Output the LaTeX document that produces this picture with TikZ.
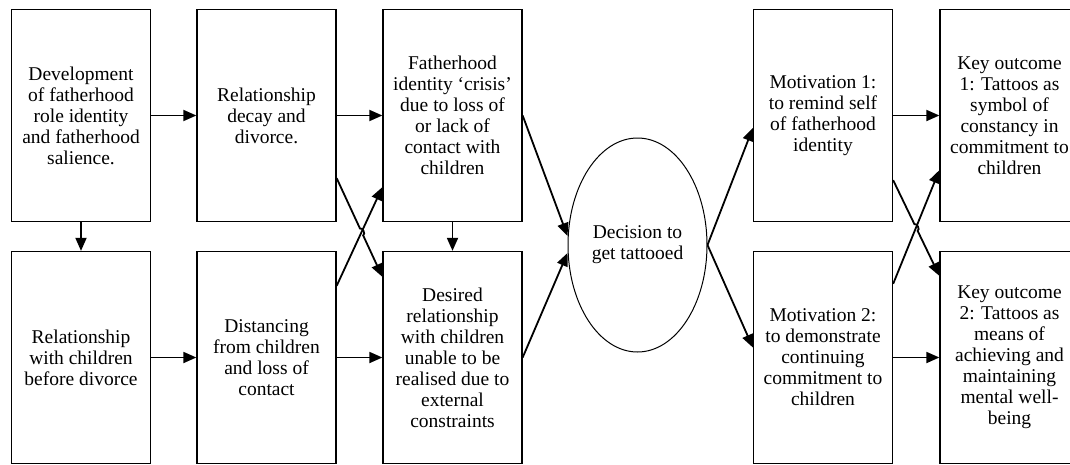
\documentclass[tikz,border=0pt]{standalone}
\usepackage{fontspec}
\setmainfont{Liberation Serif}
\usepackage{tikz}
\usetikzlibrary{arrows.meta,shapes.geometric,positioning,calc}
\tikzset{
  stage/.style={draw, line width=1.3pt, minimum width=139pt, minimum height=212pt,
    align=center, inner sep=2pt, font=\fontsize{19.5}{21}\selectfont},
  flow/.style={-{Triangle[length=13pt,width=11pt]}, line width=1.8pt},
}
\begin{document}
\begin{tikzpicture}[x=1pt,y=-1pt]
\useasboundingbox (0,0) rectangle (1070,464);
% top row
\node[stage] (dev) at (81,115.5) {Development\\of fatherhood\\role identity\\and fatherhood\\salience.};
\node[stage] (decay) at (266.5,115.5) {Relationship\\decay and\\divorce.};
\node[stage] (crisis) at (452.5,115.5) {Fatherhood\\identity `crisis'\\due to loss of\\or lack of\\contact with\\children};
% bottom row
\node[stage] (before) at (81,357.5) {Relationship\\with children\\before divorce};
\node[stage] (dist) at (266.5,357.5) {Distancing\\from children\\and loss of\\contact};
\node[stage] (desired) at (452.5,357.5) {Desired\\relationship\\with children\\unable to be\\realised due to\\external\\constraints};
% decision
\node[draw, ellipse, line width=1pt, minimum width=139pt, minimum height=214pt, inner sep=0pt,
  align=center, font=\fontsize{19.5}{21}\selectfont] (tat) at (637.5,245) {Decision to\\get tattooed};
% motivations and outcomes
\node[stage] (mot1) at (823,115.5) {Motivation 1:\\to remind self\\of fatherhood\\identity};
\node[stage] (mot2) at (823,357.5) {Motivation 2:\\to demonstrate\\continuing\\commitment to\\children};
\node[stage] (key1) at (1009.5,115.5) {Key outcome\\1: Tattoos as\\symbol of\\constancy in\\commitment to\\children};
\node[stage] (key2) at (1009.5,357.5) {Key outcome\\2: Tattoos as\\means of\\achieving and\\maintaining\\mental well-\\being};

% straight arrows
\foreach \a/\b in {dev/decay,decay/crisis,before/dist,dist/desired,mot1/key1,mot2/key2}
  \draw[flow] (\a.east) -- (\b.west);
\draw[flow] (dev.south) -- (before.north);
\draw[flow] (crisis.south) -- (desired.north);

% crossing arrows, left
\coordinate (d1) at ([yshift=44pt]decay.south east);
\coordinate (d2) at ([yshift=-26pt]desired.north west);
\draw[flow] (d1) -- ($(d1)!.51!(d2)$) to[bend left=90] ($(d1)!.58!(d2)$) -- (d2);
\draw[flow] ([yshift=-35pt]dist.north east) -- ([yshift=35pt]crisis.south west);

% into and out of the decision
\draw[flow] (crisis.east) -- ([yshift=9pt]tat.west);
\draw[flow] (desired.east) -- ([yshift=-8pt]tat.west);
\draw[flow] (tat.east) -- ([yshift=-12.5pt]mot1.west);
\draw[flow] (tat.east) -- ([yshift=10pt]mot2.west);

% crossing arrows, right
\coordinate (m1) at ([yshift=42pt]mot1.south east);
\coordinate (m2) at ([yshift=-25pt]key2.north west);
\draw[flow] (m1) -- ($(m1)!.46!(m2)$) to[bend left=90] ($(m1)!.53!(m2)$) -- (m2);
\draw[flow] ([yshift=-33pt]mot2.north east) -- ([yshift=52pt]key1.south west);
\end{tikzpicture}
\end{document}
